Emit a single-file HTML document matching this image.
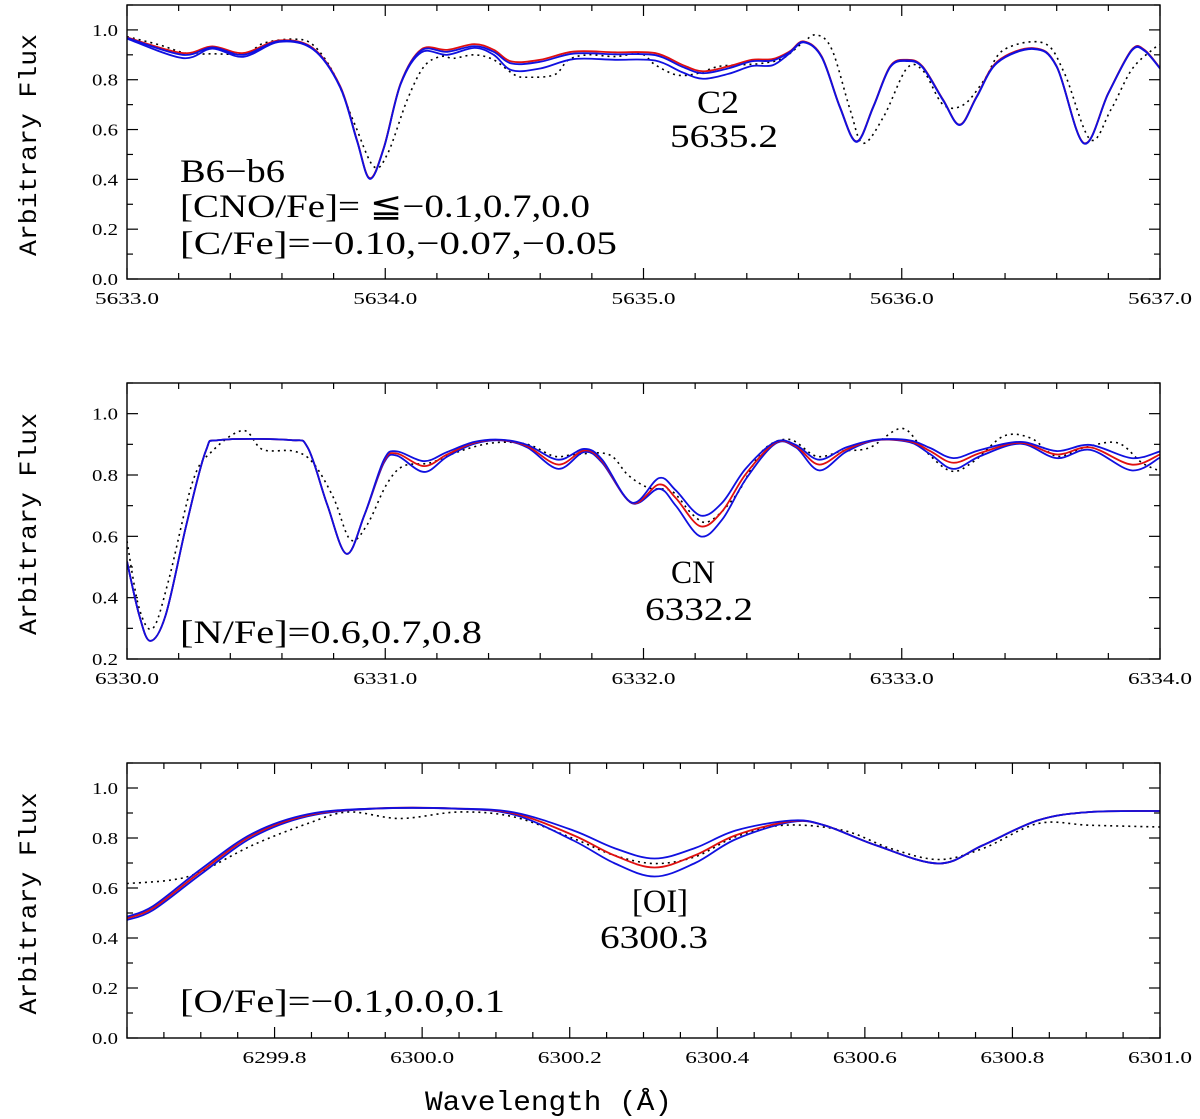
<!DOCTYPE html>
<html><head><meta charset="utf-8">
<style>
body{margin:0;background:#fff;}
svg{display:block;font-family:"Liberation Serif",serif;}
.tick{font-size:17px;font-family:"Liberation Serif","DejaVu Serif",serif;}
.ann{font-size:33px;font-family:"Liberation Serif","DejaVu Serif",serif;}
.ylab{font-size:25px;font-family:"Liberation Mono",monospace;}
</style></head>
<body>
<svg id="chart" width="1200" height="1119" viewBox="0 0 1200 1119" xmlns="http://www.w3.org/2000/svg"></svg>
<script>
// ---------- Panel 1 (C2) ----------
const p1ModelWave = [5633.0,5633.215,5633.33,5633.45,5633.59,5633.72,5633.825,5633.89,5633.94,5633.995,5634.06,5634.14,5634.24,5634.345,5634.42,5634.49,5634.6,5634.73,5634.89,5635.045,5635.15,5635.23,5635.33,5635.42,5635.5,5635.565,5635.62,5635.69,5635.76,5635.825,5635.89,5635.955,5636.02,5636.08,5636.16,5636.225,5636.29,5636.37,5636.51,5636.6,5636.705,5636.8,5636.89,5636.94,5637.0];
const p1Red = [0.97,0.907,0.934,0.907,0.958,0.927,0.775,0.56,0.405,0.53,0.787,0.922,0.92,0.943,0.92,0.873,0.88,0.913,0.91,0.907,0.86,0.834,0.854,0.88,0.883,0.913,0.954,0.894,0.693,0.553,0.693,0.854,0.88,0.854,0.72,0.62,0.733,0.873,0.927,0.854,0.546,0.747,0.92,0.92,0.847];
const p1BlueHi = [0.968,0.90,0.93,0.90,0.955,0.924,0.772,0.558,0.403,0.528,0.785,0.918,0.912,0.935,0.912,0.865,0.872,0.905,0.902,0.899,0.852,0.826,0.846,0.874,0.877,0.91,0.952,0.892,0.692,0.552,0.692,0.852,0.878,0.852,0.719,0.619,0.731,0.87,0.925,0.853,0.545,0.746,0.918,0.918,0.846];
const p1BlueLo = [0.965,0.887,0.925,0.892,0.952,0.922,0.77,0.556,0.402,0.527,0.783,0.91,0.9,0.928,0.9,0.838,0.845,0.883,0.88,0.877,0.83,0.804,0.824,0.855,0.858,0.905,0.95,0.89,0.69,0.55,0.69,0.85,0.875,0.85,0.717,0.618,0.73,0.868,0.923,0.852,0.544,0.745,0.916,0.916,0.845];
const p1ObsWave = [5633.0,5633.125,5633.23,5633.33,5633.46,5633.53,5633.645,5633.72,5633.80,5633.88,5633.955,5634.01,5634.085,5634.15,5634.215,5634.265,5634.345,5634.42,5634.50,5634.55,5634.655,5634.71,5634.785,5634.89,5634.99,5635.045,5635.125,5635.20,5635.29,5635.38,5635.46,5635.54,5635.615,5635.67,5635.73,5635.80,5635.85,5635.93,5636.02,5636.085,5636.16,5636.24,5636.32,5636.395,5636.55,5636.63,5636.73,5636.81,5636.89,5636.97,5637.0];
const p1Obs = [0.973,0.94,0.906,0.904,0.906,0.947,0.963,0.94,0.826,0.626,0.452,0.505,0.719,0.853,0.893,0.886,0.90,0.88,0.82,0.81,0.82,0.88,0.90,0.893,0.904,0.86,0.82,0.823,0.853,0.86,0.866,0.886,0.947,0.98,0.92,0.68,0.545,0.652,0.846,0.833,0.70,0.70,0.80,0.92,0.947,0.826,0.56,0.68,0.84,0.92,0.94];
const p1XTicks = ["5633.0","5634.0","5635.0","5636.0","5637.0"];

// ---------- Panel 2 (CN) ----------
const p2ModelWave = [6330.0,6330.047,6330.09,6330.15,6330.23,6330.305,6330.36,6330.63,6330.70,6330.775,6330.85,6330.92,6330.995,6331.045,6331.15,6331.24,6331.345,6331.45,6331.55,6331.67,6331.77,6331.84,6331.955,6332.06,6332.125,6332.22,6332.305,6332.395,6332.51,6332.59,6332.68,6332.785,6332.90,6333.03,6333.11,6333.20,6333.305,6333.46,6333.60,6333.73,6333.89,6334.0];
const p2Red = [0.518,0.344,0.259,0.344,0.638,0.878,0.914,0.914,0.889,0.704,0.543,0.671,0.845,0.87,0.829,0.867,0.905,0.914,0.894,0.834,0.88,0.845,0.709,0.769,0.725,0.633,0.682,0.802,0.905,0.894,0.834,0.883,0.914,0.91,0.878,0.84,0.872,0.905,0.867,0.89,0.834,0.867];
const p2BlueHi = [0.518,0.344,0.259,0.344,0.638,0.878,0.914,0.914,0.889,0.704,0.543,0.671,0.85,0.877,0.845,0.875,0.908,0.915,0.898,0.85,0.885,0.85,0.71,0.79,0.75,0.668,0.71,0.82,0.908,0.898,0.85,0.89,0.915,0.913,0.888,0.855,0.882,0.908,0.878,0.898,0.855,0.877];
const p2BlueLo = [0.518,0.344,0.259,0.344,0.638,0.878,0.914,0.914,0.889,0.704,0.543,0.671,0.84,0.863,0.81,0.86,0.902,0.913,0.89,0.82,0.875,0.84,0.708,0.755,0.70,0.60,0.655,0.785,0.902,0.89,0.815,0.876,0.913,0.907,0.868,0.82,0.862,0.902,0.855,0.882,0.815,0.857];
const p2ObsWave = [6330.0,6330.047,6330.10,6330.16,6330.255,6330.33,6330.45,6330.525,6330.645,6330.72,6330.80,6330.865,6330.93,6331.005,6331.07,6331.175,6331.29,6331.42,6331.55,6331.655,6331.735,6331.865,6331.94,6332.02,6332.11,6332.19,6332.255,6332.36,6332.46,6332.565,6332.67,6332.77,6332.875,6333.0,6333.085,6333.19,6333.28,6333.395,6333.50,6333.60,6333.705,6333.835,6333.93,6334.0];
const p2Obs = [0.584,0.366,0.30,0.453,0.78,0.878,0.945,0.883,0.878,0.84,0.725,0.589,0.638,0.769,0.829,0.84,0.878,0.905,0.90,0.861,0.867,0.867,0.80,0.758,0.747,0.671,0.649,0.736,0.878,0.916,0.861,0.878,0.889,0.952,0.883,0.813,0.845,0.927,0.92,0.861,0.889,0.905,0.84,0.813];
const p2XTicks = ["6330.0","6331.0","6332.0","6333.0","6334.0"];

// ---------- Panel 3 ([OI]) ----------
const p3ModelWave = [6299.6,6299.635,6299.70,6299.77,6299.845,6299.935,6300.045,6300.125,6300.205,6300.26,6300.315,6300.37,6300.425,6300.50,6300.545,6300.615,6300.70,6300.76,6300.835,6300.905,6301.0];
const p3Red = [0.479,0.519,0.665,0.811,0.891,0.918,0.918,0.898,0.811,0.731,0.682,0.731,0.811,0.867,0.851,0.771,0.698,0.771,0.871,0.904,0.908];
const p3BlueHi = [0.485,0.527,0.675,0.818,0.895,0.918,0.918,0.902,0.83,0.76,0.718,0.76,0.83,0.87,0.851,0.771,0.698,0.771,0.871,0.904,0.908];
const p3BlueLo = [0.472,0.511,0.655,0.803,0.887,0.917,0.917,0.893,0.79,0.70,0.646,0.70,0.795,0.864,0.851,0.771,0.698,0.771,0.871,0.904,0.908];
const p3ObsWave = [6299.6,6299.66,6299.70,6299.77,6299.845,6299.90,6299.97,6300.05,6300.125,6300.205,6300.26,6300.315,6300.37,6300.425,6300.49,6300.57,6300.635,6300.70,6300.76,6300.835,6300.905,6301.0];
const p3Obs = [0.618,0.632,0.665,0.771,0.858,0.904,0.878,0.904,0.884,0.798,0.731,0.698,0.725,0.805,0.851,0.831,0.758,0.714,0.758,0.858,0.851,0.844];
const p3XTicks = ["6299.8","6300.0","6300.2","6300.4","6300.6","6300.8","6301.0"];

const NS = "http://www.w3.org/2000/svg";
const svg = document.getElementById("chart");
function mk(tag, attrs, parent){
  const e = document.createElementNS(NS, tag);
  for (const k in attrs) e.setAttribute(k, attrs[k]);
  (parent||svg).appendChild(e);
  return e;
}
function smoothPath(xs, ys){
  let d = "M" + xs[0].toFixed(2) + "," + ys[0].toFixed(2);
  for (let i=0;i<xs.length-1;i++){
    const x0=xs[Math.max(i-1,0)], y0=ys[Math.max(i-1,0)];
    const x1=xs[i], y1=ys[i], x2=xs[i+1], y2=ys[i+1];
    const x3=xs[Math.min(i+2,xs.length-1)], y3=ys[Math.min(i+2,xs.length-1)];
    const c1x=x1+(x2-x0)/6, c1y=y1+(y2-y0)/6, c2x=x2-(x3-x1)/6, c2y=y2-(y3-y1)/6;
    d += " C"+c1x.toFixed(2)+","+c1y.toFixed(2)+" "+c2x.toFixed(2)+","+c2y.toFixed(2)+" "+x2.toFixed(2)+","+y2.toFixed(2);
  }
  return d;
}

function panel(cfg){
  const L=127, R=1160, T=cfg.top, B=cfg.bottom;
  const g = mk("g", {});
  
  
  const xs = v => L + (v-cfg.xmin)/(cfg.xmax-cfg.xmin)*(R-L);
  const ys = v => B - (v-cfg.ymin)/(cfg.ymax-cfg.ymin)*(B-T);
  const clipId = "clip"+cfg.name;
  const cp = mk("clipPath", {id:clipId}, g);
  mk("rect",{x:L,y:T,width:R-L,height:B-T},cp);
  const nx = Math.round((cfg.xmax-cfg.xmin)/cfg.xminor);
  for (let i=0;i<=nx;i++){
    const v = cfg.xmin + i*cfg.xminor;
    const x = xs(v);
    const major = Math.abs(((v-cfg.xmajor0)/cfg.xmajor) - Math.round((v-cfg.xmajor0)/cfg.xmajor))<1e-6;
    const len = major?11:6;
    const t1 = mk("line",{x1:x,x2:x,y1:B,y2:B-len,stroke:"#000","stroke-width":1.2},g);
    
    
    mk("line",{x1:x,x2:x,y1:T,y2:T+len,stroke:"#000","stroke-width":1.2},g);
  }
  cfg.xticks.forEach(lbl=>{
    const t = mk("text",{x:xs(parseFloat(lbl)),y:B+25,"text-anchor":"middle",class:"tick",textLength:64,lengthAdjust:"spacingAndGlyphs"},g);
    t.textContent = lbl;
    
    
  });
  const ny = Math.round((cfg.ymax-cfg.ymin)/0.1);
  for (let i=0;i<=ny;i++){
    const v = cfg.ymin + i*0.1;
    const y = ys(v);
    const major = (Math.round(v*10)%2)===0;
    const len = major?11:6;
    mk("line",{x1:L,x2:L+len,y1:y,y2:y,stroke:"#000","stroke-width":1.2},g);
    mk("line",{x1:R,x2:R-len,y1:y,y2:y,stroke:"#000","stroke-width":1.2},g);
    if (major && v<=1.001){
      const t = mk("text",{x:L-9,y:y+6,"text-anchor":"end",class:"tick",textLength:26,lengthAdjust:"spacingAndGlyphs"},g);
      t.textContent = v.toFixed(1);
      
      
    }
  }
  const yl = mk("text",{x:0,y:0,transform:"translate(36,"+((T+B)/2+3)+") rotate(-90)","text-anchor":"middle",class:"ylab",textLength:222,lengthAdjust:"spacingAndGlyphs"},g);
  yl.textContent = "Arbitrary Flux";
  
  
  const series = [
    {w:cfg.obsW, v:cfg.obs, c:"#000", dash:"2,4", sw:1.6, n:"observed-spectrum"},
    {w:cfg.modW, v:cfg.lo, c:"#1010e0", dash:"", sw:1.8, n:"synthetic-low"},
    {w:cfg.modW, v:cfg.red, c:"#e01010", dash:"", sw:1.8, n:"synthetic-best"},
    {w:cfg.modW, v:cfg.hi, c:"#1010e0", dash:"", sw:1.8, n:"synthetic-high"}
  ];
  series.forEach(s=>{
    const p = mk("path",{d:smoothPath(s.w.map(xs), s.v.map(ys)),fill:"none",stroke:s.c,"stroke-width":s.sw,"stroke-dasharray":s.dash,"clip-path":"url(#"+clipId+")"},g);
    
    
  });
  const fr = mk("rect",{x:L,y:T,width:R-L,height:B-T,fill:"none",stroke:"#000","stroke-width":1.4},g);
  
  
  cfg.labels.forEach(a=>{
    const t = mk("text",{x:a.x,y:a.y,class:"ann",textLength:a.w,lengthAdjust:"spacingAndGlyphs"},g);
    t.textContent = a.t;
    
    
  });
}

panel({name:"panel-c2",top:5,bottom:279,xmin:5633,xmax:5637,ymin:0,ymax:1.1,xminor:0.2,xmajor:1,xmajor0:5633,
  xticks:p1XTicks,modW:p1ModelWave,red:p1Red,hi:p1BlueHi,lo:p1BlueLo,obsW:p1ObsWave,obs:p1Obs,
  labels:[{x:697,y:113,t:"C2",w:42,n:"c2-label"},{x:670,y:147,t:"5635.2",w:108,n:"c2-wavelength"},
          {x:180,y:182,t:"B6\u2212b6",w:105,n:"star-id"},{x:180,y:217,t:"[CNO/Fe]= \u2266\u22120.1,0.7,0.0",w:410,n:"cno-abundance"},
          {x:180,y:254,t:"[C/Fe]=\u22120.10,\u22120.07,\u22120.05",w:437,n:"c-abundance"}]});
panel({name:"panel-cn",top:383,bottom:659,xmin:6330,xmax:6334,ymin:0.2,ymax:1.1,xminor:0.2,xmajor:1,xmajor0:6330,
  xticks:p2XTicks,modW:p2ModelWave,red:p2Red,hi:p2BlueHi,lo:p2BlueLo,obsW:p2ObsWave,obs:p2Obs,
  labels:[{x:671,y:583,t:"CN",w:44,n:"cn-label"},{x:645,y:620,t:"6332.2",w:108,n:"cn-wavelength"},
          {x:180,y:643,t:"[N/Fe]=0.6,0.7,0.8",w:302,n:"n-abundance"}]});
panel({name:"panel-oi",top:763,bottom:1038,xmin:6299.6,xmax:6301.0,ymin:0,ymax:1.1,xminor:0.05,xmajor:0.2,xmajor0:6299.6,
  xticks:p3XTicks,modW:p3ModelWave,red:p3Red,hi:p3BlueHi,lo:p3BlueLo,obsW:p3ObsWave,obs:p3Obs,
  labels:[{x:632,y:912,t:"[OI]",w:56,n:"oi-label"},{x:600,y:948,t:"6300.3",w:108,n:"oi-wavelength"},
          {x:180,y:1012,t:"[O/Fe]=\u22120.1,0.0,0.1",w:325,n:"o-abundance"}]});

const xl = mk("text",{x:425,y:1110,class:"ylab",style:"font-size:28px",textLength:247,lengthAdjust:"spacingAndGlyphs"});
xl.textContent = "Wavelength (\u00c5)";


</script>
</body></html>
